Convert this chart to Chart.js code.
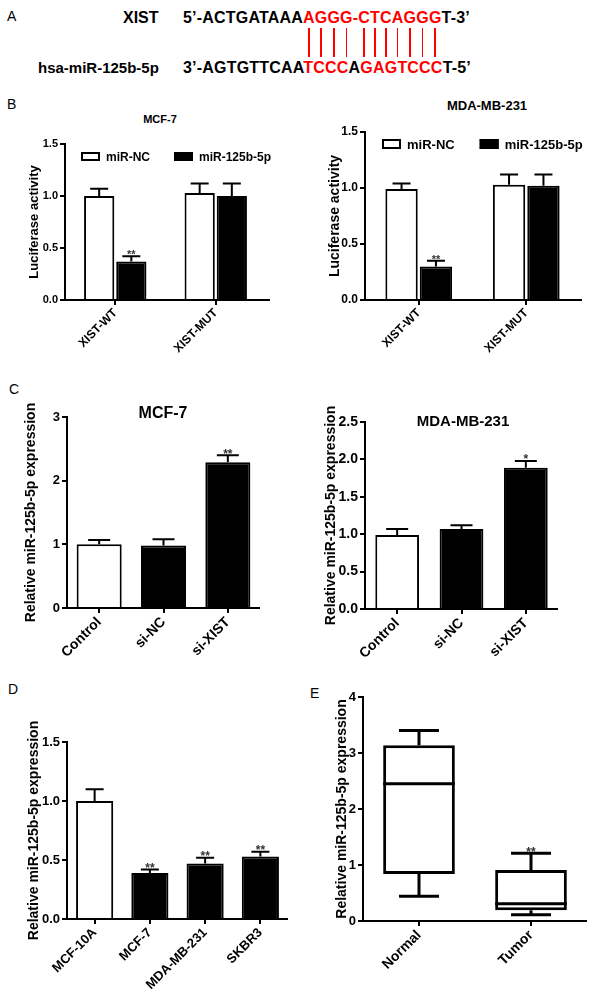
<!DOCTYPE html>
<html>
<head>
<meta charset="utf-8">
<script src="https://cdn.jsdelivr.net/npm/chart.js@4.4.1/dist/chart.umd.min.js"></script>
<style>
body { margin: 0; background: #fff; }
#page { position: relative; width: 600px; height: 1001px; overflow: hidden; font-family: "Liberation Sans", Arial, sans-serif; color: #000; }
.letter { position: absolute; font-size: 14px; line-height: 14px; }
.ttl { position: absolute; font-weight: bold; transform: translate(-50%, -50%); white-space: nowrap; z-index: 2; }
.seq { position: absolute; font-weight: bold; font-size: 16px; line-height: 16px; white-space: pre; letter-spacing: 0.2px; }
.r { color: #f00; }
.pair { position: absolute; width: 1.5px; background: #f00; }
canvas { position: absolute; }
</style>
</head>
<body>
<div id="page">
  <div class="letter" style="left:7px;top:9px">A</div>
  <div class="seq" style="left:123px;top:10px;letter-spacing:0">XIST</div>
  <div class="seq" id="row1" style="left:183px;top:10px">5’-ACTGATAAA<span class="r"><span class="p">A</span><span class="p">G</span><span class="p">G</span><span class="p">G</span>-<span class="p">C</span><span class="p">T</span><span class="p">C</span><span class="p">A</span><span class="p">G</span><span class="p">G</span><span class="p">G</span></span>T-3’</div>
  <div class="seq" style="left:38px;top:60px;font-size:15px;letter-spacing:0">hsa-miR-125b-5p</div>
  <div class="seq" style="left:183px;top:60px">3’-AGTGTTCAA<span class="r">TCCC</span>A<span class="r">GAGTCCC</span>T-5’</div>

  <div class="letter" style="left:7px;top:97px">B</div>
  <div class="letter" style="left:9px;top:382px">C</div>
  <div class="letter" style="left:8px;top:682px">D</div>
  <div class="letter" style="left:310px;top:686px">E</div>

  <div class="ttl" style="left:160px;top:119px;font-size:11px">MCF-7</div>
  <div class="ttl" style="left:487px;top:105px;font-size:13px">MDA-MB-231</div>
  <div class="ttl" style="left:163px;top:413px;font-size:16px">MCF-7</div>
  <div class="ttl" style="left:463px;top:420px;font-size:15px">MDA-MB-231</div>
</div>
<script>
// ---- data ----
// B: luciferase reporter
var bGroups = ['XIST-WT', 'XIST-MUT'];
var bMcfNc = [1.00, 1.03];
var bMcfNcErr = [0.07, 0.09];
var bMcfMir = [0.37, 1.00];
var bMcfMirErr = [0.05, 0.12];
var bMcfStars = ['**', ''];
var bMdaNc = [0.99, 1.03];
var bMdaNcErr = [0.05, 0.09];
var bMdaMir = [0.30, 1.02];
var bMdaMirErr = [0.05, 0.10];
var bMdaStars = ['**', ''];

// C: knockdown of XIST
var cGroups = ['Control', 'si-NC', 'si-XIST'];
var cMcf = [1.00, 0.98, 2.29];
var cMcfErr = [0.07, 0.10, 0.11];
var cMcfStars = ['', '', '**'];
var cMda = [0.99, 1.07, 1.89];
var cMdaErr = [0.08, 0.05, 0.09];
var cMdaStars = ['', '', '*'];

// D: cell lines
var dLines = ['MCF-10A', 'MCF-7', 'MDA-MB-231', 'SKBR3'];
var dExpr = [1.00, 0.39, 0.47, 0.53];
var dErr = [0.10, 0.03, 0.05, 0.04];
var dStars = ['', '**', '**', '**'];

// E: tissue box plot
var eGroups = ['Normal', 'Tumor'];
var eMin = [0.44, 0.11];
var eQ1 = [0.84, 0.19];
var eMed = [2.45, 0.31];
var eQ3 = [3.14, 0.91];
var eMax = [3.40, 1.21];
var eStars = ['', '**'];

var yTitle = 'Relative miR-125b-5p expression';

Chart.defaults.font.family = '"Liberation Sans", Arial, sans-serif';
Chart.defaults.color = '#000';

// red pairing lines in panel A
var page = document.getElementById('page');
document.querySelectorAll('#row1 .p').forEach(function (s) {
  var r = s.getBoundingClientRect();
  var d = document.createElement('div');
  d.className = 'pair';
  d.style.left = (r.left + r.width / 2 - 0.75) + 'px';
  d.style.top = '28px';
  d.style.height = '29px';
  page.appendChild(d);
});

// error bars, stars, box whiskers and the zero line
var extras = {
  id: 'extras',
  afterDatasetsDraw: function (chart, args, opts) {
    var ctx = chart.ctx, ys = chart.scales.y, area = chart.chartArea;
    chart.data.datasets.forEach(function (ds, i) {
      chart.getDatasetMeta(i).data.forEach(function (bar, j) {
        var top;
        ctx.save();
        ctx.strokeStyle = '#000';
        ctx.lineWidth = opts.lw || 2;
        if (ds.errors) {
          top = ds.data[j] + ds.errors[j];
          var y0 = ys.getPixelForValue(ds.data[j]), y1 = ys.getPixelForValue(top);
          ctx.beginPath();
          ctx.moveTo(bar.x, y0); ctx.lineTo(bar.x, y1);
          ctx.moveTo(bar.x - opts.cap / 2, y1); ctx.lineTo(bar.x + opts.cap / 2, y1);
          ctx.stroke();
        }
        if (ds.box) {
          var b = ds.box;
          top = b.max[j];
          var hw = bar.width / 2;
          var pm = ys.getPixelForValue(b.med[j]);
          var pq1 = ys.getPixelForValue(ds.data[j][0]), pq3 = ys.getPixelForValue(ds.data[j][1]);
          var pmin = ys.getPixelForValue(b.min[j]), pmax = ys.getPixelForValue(b.max[j]);
          ctx.beginPath();
          ctx.moveTo(bar.x - hw, pm); ctx.lineTo(bar.x + hw, pm);
          ctx.moveTo(bar.x, pq3); ctx.lineTo(bar.x, pmax);
          ctx.moveTo(bar.x - opts.cap / 2, pmax); ctx.lineTo(bar.x + opts.cap / 2, pmax);
          ctx.moveTo(bar.x, pq1); ctx.lineTo(bar.x, pmin);
          ctx.moveTo(bar.x - opts.cap / 2, pmin); ctx.lineTo(bar.x + opts.cap / 2, pmin);
          ctx.stroke();
        }
        if (ds.stars && ds.stars[j]) {
          ctx.fillStyle = '#333';
          ctx.font = 'bold ' + opts.star + 'px "Liberation Sans"';
          ctx.textAlign = 'center';
          ctx.textBaseline = 'alphabetic';
          ctx.fillText(ds.stars[j], bar.x, ys.getPixelForValue(top) - 3 + opts.star * 0.45);
        }
        ctx.restore();
      });
    });
    // x axis line at value 0 (with its small tick left of the y axis)
    var y0 = Math.round(ys.getPixelForValue(0));
    ctx.save();
    ctx.strokeStyle = '#000';
    ctx.lineWidth = 2;
    ctx.beginPath();
    ctx.moveTo(area.left - 5, y0);
    ctx.lineTo(area.right + (opts.ext || 0), y0);
    ctx.stroke();
    ctx.restore();
  }
};

// legend drawn inside the plot area (as in GraphPad)
var boxLegend = {
  id: 'boxLegend',
  afterDraw: function (chart, args, opts) {
    if (!opts || !opts.show) return;
    var ctx = chart.ctx;
    var x = chart.chartArea.left + opts.x, y = chart.chartArea.top + opts.y;
    ctx.save();
    ctx.font = 'bold ' + opts.size + 'px "Liberation Sans"';
    ctx.textBaseline = 'middle';
    chart.data.datasets.forEach(function (ds) {
      ctx.fillStyle = ds.backgroundColor;
      ctx.fillRect(x, y, opts.w, opts.h);
      ctx.strokeStyle = '#000'; ctx.lineWidth = 2;
      ctx.strokeRect(x + 1, y + 1, opts.w - 2, opts.h - 2);
      ctx.fillStyle = '#000';
      ctx.fillText(ds.label, x + opts.w + 6, y + opts.h / 2 + 1);
      x += opts.w + 6 + ctx.measureText(ds.label).width + opts.gap;
    });
    ctx.restore();
  }
};

function panel(o) {
  var cv = document.createElement('canvas');
  cv.width = o.right - o.left + o.yw + o.pr;
  cv.height = o.bottom - o.top + o.pt + o.xh;
  cv.style.left = (o.left - o.yw) + 'px';
  cv.style.top = (o.top - o.pt) + 'px';
  page.appendChild(cv);
  var xGrid = { offset: false, drawOnChartArea: false, color: '#000', lineWidth: 2, tickLength: 5 };
  // no grid width at zero, so bars sit right on the axis line
  var yGrid = { drawOnChartArea: false, color: '#000', tickLength: 5,
    lineWidth: function (c) { return c.tick && c.tick.value === 0 ? 0 : 2; } };
  return new Chart(cv, {
    type: 'bar',
    data: { labels: o.labels, datasets: o.datasets },
    options: {
      responsive: false,
      animation: false,
      devicePixelRatio: 1,
      layout: { padding: { top: o.pt, right: o.pr, left: 0, bottom: 0 } },
      plugins: {
        legend: { display: false },
        tooltip: { enabled: false },
        boxLegend: o.legend || { show: false },
        extras: o.extras
      },
      scales: {
        x: {
          grid: xGrid,
          border: { display: false },
          ticks: { color: '#000', font: { size: o.xfs, weight: 'bold' }, minRotation: 45, maxRotation: 45, padding: 1 },
          afterFit: function (s) { s.height = o.xh; }
        },
        y: {
          min: 0, max: o.ymax,
          grid: yGrid,
          border: { color: '#000', width: 2 },
          ticks: { stepSize: o.step, color: '#000', font: { size: o.yfs, weight: 'bold' }, padding: 2,
            callback: function (v) { return v.toFixed(o.dec); } },
          title: { display: true, text: o.ytitle, color: '#000', font: { size: o.tfs, weight: 'bold' }, padding: 0 },
          afterFit: function (s) { s.width = o.yw; }
        }
      }
    },
    plugins: [extras, boxLegend]
  });
}

function barSet(label, data, errs, stars, fill, cp, bp) {
  return { label: label, data: data, errors: errs, stars: stars, backgroundColor: fill,
    borderColor: '#000', borderWidth: 2, borderSkipped: 'start', inflateAmount: 0,
    categoryPercentage: cp, barPercentage: bp };
}

// B left - MCF-7
panel({
  left: 65, top: 144, right: 266, bottom: 300, yw: 38, pt: 10, pr: 12, xh: 62,
  labels: bGroups, ymax: 1.5, step: 0.5, dec: 1, xfs: 12, yfs: 11, tfs: 13,
  ytitle: 'Luciferase activity',
  datasets: [
    barSet('miR-NC', bMcfNc, bMcfNcErr, null, '#fff', 0.64, 0.94),
    barSet('miR-125b-5p', bMcfMir, bMcfMirErr, bMcfStars, '#000', 0.64, 0.94)
  ],
  legend: { show: true, x: 16, y: 8, w: 19, h: 9, size: 12, gap: 24 },
  extras: { cap: 18, star: 11, ext: 4 }
});

// B right - MDA-MB-231
panel({
  left: 365, top: 132, right: 580, bottom: 300, yw: 38, pt: 10, pr: 16, xh: 62,
  labels: bGroups, ymax: 1.5, step: 0.5, dec: 1, xfs: 12, yfs: 12, tfs: 14,
  ytitle: 'Luciferase activity',
  datasets: [
    barSet('miR-NC', bMdaNc, bMdaNcErr, null, '#fff', 0.64, 0.94),
    barSet('miR-125b-5p', bMdaMir, bMdaMirErr, bMdaStars, '#000', 0.64, 0.94)
  ],
  legend: { show: true, x: 17, y: 7, w: 19, h: 10, size: 13, gap: 25 },
  extras: { cap: 18, star: 11, ext: 2 }
});

// C left - MCF-7
panel({
  left: 67, top: 417, right: 260, bottom: 608, yw: 44, pt: 36, pr: 10, xh: 62,
  labels: cGroups, ymax: 3, step: 1, dec: 0, xfs: 14, yfs: 13, tfs: 14,
  ytitle: yTitle,
  datasets: [
    barSet('MCF-7', cMcf, cMcfErr, cMcfStars, ['#fff', '#000', '#000'], 0.8, 0.875)
  ],
  extras: { cap: 22, star: 12 }
});

// C right - MDA-MB-231
panel({
  left: 365, top: 422, right: 558, bottom: 609, yw: 42, pt: 34, pr: 10, xh: 62,
  labels: cGroups, ymax: 2.5, step: 0.5, dec: 1, xfs: 14, yfs: 14, tfs: 14,
  ytitle: yTitle,
  datasets: [
    barSet('MDA-MB-231', cMda, cMdaErr, cMdaStars, ['#fff', '#000', '#000'], 0.8, 0.85)
  ],
  extras: { cap: 22, star: 12 }
});

// D - cell lines
panel({
  left: 67, top: 742, right: 288, bottom: 919, yw: 41, pt: 28, pr: 8, xh: 80,
  labels: dLines, ymax: 1.5, step: 0.5, dec: 1, xfs: 13, yfs: 13, tfs: 14,
  ytitle: yTitle,
  datasets: [
    barSet('Expression', dExpr, dErr, dStars, ['#fff', '#000', '#000', '#000'], 0.8, 0.84)
  ],
  extras: { cap: 18, star: 12 }
});

// E - tissues (box and whiskers)
panel({
  left: 363, top: 697, right: 587, bottom: 921, yw: 29, pt: 16, pr: 8, xh: 75,
  labels: eGroups, ymax: 4, step: 1, dec: 0, xfs: 14, yfs: 13, tfs: 14,
  ytitle: yTitle,
  datasets: [{
    label: 'Expression',
    data: eGroups.map(function (g, i) { return [eQ1[i], eQ3[i]]; }),
    box: { min: eMin, med: eMed, max: eMax },
    stars: eStars,
    backgroundColor: '#fff', borderColor: '#000', borderWidth: 3, borderSkipped: false, inflateAmount: 0,
    categoryPercentage: 0.8, barPercentage: 0.8
  }],
  extras: { cap: 40, star: 12, lw: 3 }
});
</script>
</body>
</html>
